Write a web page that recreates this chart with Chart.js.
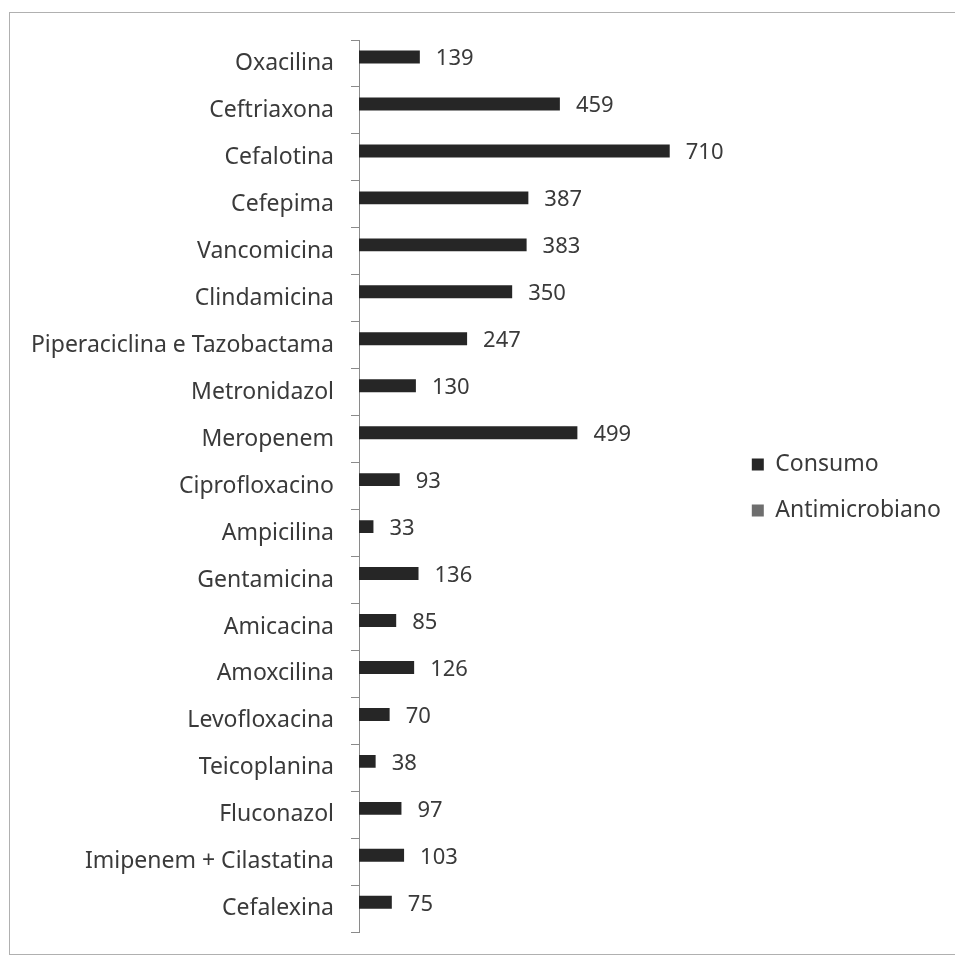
<!DOCTYPE html>
<html>
<head>
<meta charset="utf-8">
<script src="https://cdn.jsdelivr.net/npm/chart.js@4.4.1/dist/chart.umd.min.js"></script>
<style>
    body { margin: 0; background: #fff; }
    #wrap { position: relative; width: 955px; height: 963px; }
    #moldura { position: absolute; left: 9px; top: 12px; width: 946px; height: 943px; border: 1px solid #b0b0b0; border-right: none; box-sizing: border-box; }
</style>
</head>
<body>
<div id="wrap">
    <div id="moldura"></div>
    <canvas id="grafico"></canvas>
</div>
<script>
// Dados
const antimicrobianos = [
    'Oxacilina', 'Ceftriaxona', 'Cefalotina', 'Cefepima', 'Vancomicina',
    'Clindamicina', 'Piperaciclina e Tazobactama', 'Metronidazol', 'Meropenem',
    'Ciprofloxacino', 'Ampicilina', 'Gentamicina', 'Amicacina', 'Amoxcilina',
    'Levofloxacina', 'Teicoplanina', 'Fluconazol', 'Imipenem + Cilastatina', 'Cefalexina'
];
const consumo = [139, 459, 710, 387, 383, 350, 247, 130, 499, 93, 33, 136, 85, 126, 70, 38, 97, 103, 75];
// segunda série da legenda, sem valores no original
const antimicrobiano = [];

const fonte = '"Noto Sans", "Open Sans", sans-serif';
const corTexto = '#3a3a3a';

// rótulos de valor à direita das barras
const rotulosValor = {
    id: 'rotulosValor',
    afterDatasetsDraw(chart) {
        const ctx = chart.ctx;
        const meta = chart.getDatasetMeta(0);
        ctx.save();
        ctx.font = '22px ' + fonte;
        ctx.fillStyle = corTexto;
        ctx.textAlign = 'left';
        ctx.textBaseline = 'middle';
        meta.data.forEach((barra, i) => {
            ctx.fillText(consumo[i], barra.x + 16, barra.y + 2);
        });
        ctx.restore();
    }
};

new Chart(document.getElementById('grafico'), {
    type: 'bar',
    data: {
        labels: antimicrobianos,
        datasets: [
            { label: 'Consumo', data: consumo, backgroundColor: '#262626', categoryPercentage: 0.55, barPercentage: 1 },
            { label: 'Antimicrobiano', data: antimicrobiano, backgroundColor: '#6e6e6e', categoryPercentage: 0.55, barPercentage: 1 }
        ]
    },
    options: {
        indexAxis: 'y',
        responsive: true,
        maintainAspectRatio: false,
        animation: false,
        layout: { padding: { top: 40, bottom: 28, left: 0, right: 4 } },
        plugins: {
            legend: {
                position: 'right',
                labels: {
                    font: { family: fonte, size: 23 },
                    color: corTexto,
                    boxWidth: 12,
                    boxHeight: 12,
                    padding: 23
                }
            },
            tooltip: { enabled: false }
        },
        scales: {
            x: { display: false, min: 0, max: 845 },
            y: {
                afterFit(scale) { scale.width = 359; },
                border: { display: true, color: '#8a8a8a' },
                grid: { drawOnChartArea: false, drawTicks: true, tickLength: 8, color: '#8a8a8a' },
                ticks: { font: { family: fonte, size: 23 }, color: corTexto, padding: 17, autoSkip: false }
            }
        }
    },
    plugins: [rotulosValor]
});
</script>
</body>
</html>
